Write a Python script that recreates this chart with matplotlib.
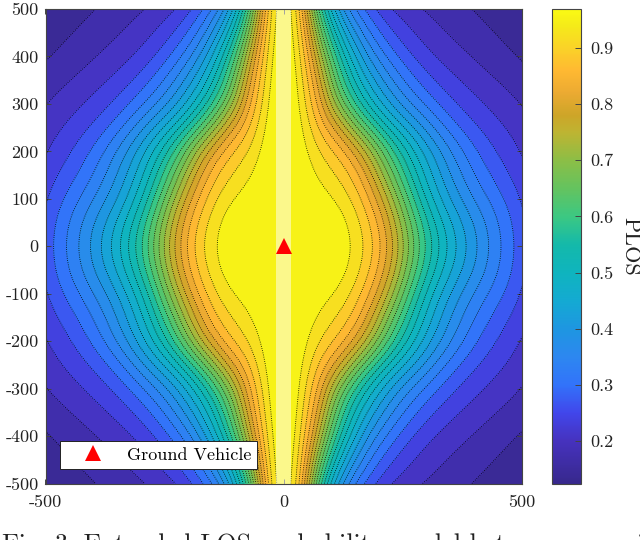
import numpy as np
import matplotlib
matplotlib.use("Agg")
import matplotlib.pyplot as plt
from matplotlib.colors import LinearSegmentedColormap, Normalize
from matplotlib.cm import ScalarMappable

plt.rcParams['font.family'] = ['cmr10', 'DejaVu Serif']
plt.rcParams['axes.unicode_minus'] = False
plt.rcParams['axes.formatter.use_mathtext'] = True

# |x| and |y| positions of the values (field is mirrored)
abs_x = [0, 15, 25, 35, 50, 65, 80, 100, 120, 140, 165, 190, 220, 250, 285, 320, 360, 400, 450, 500]
abs_y = [0, 50, 100, 150, 200, 250, 300, 350, 400, 450, 500]
plos = [
    [.969,.969,.969,.969,.969,.969,.969,.968,.960,.945,.920,.885,.825,.735,.620,.530,.460,.398,.323,.270],
    [.969,.969,.969,.969,.969,.969,.968,.966,.955,.940,.905,.865,.800,.700,.585,.505,.440,.385,.325,.265],
    [.969,.969,.969,.968,.966,.962,.955,.945,.930,.910,.875,.830,.755,.645,.530,.450,.390,.340,.300,.250],
    [.969,.969,.968,.966,.955,.940,.925,.910,.893,.875,.835,.770,.665,.580,.490,.425,.365,.310,.265,.235],
    [.969,.968,.966,.958,.9365,.920,.905,.890,.870,.845,.795,.720,.615,.540,.470,.405,.350,.2865,.245,.2175],
    [.969,.968,.962,.945,.920,.890,.860,.830,.790,.720,.635,.565,.500,.450,.400,.335,.280,.250,.230,.205],
    [.969,.967,.955,.930,.890,.850,.810,.720,.645,.580,.515,.465,.400,.360,.315,.280,.250,.230,.205,.187],
    [.969,.965,.945,.920,.880,.830,.770,.670,.590,.530,.465,.420,.370,.320,.275,.247,.222,.205,.187,.172],
    [.969,.960,.9365,.905,.855,.785,.720,.615,.545,.485,.410,.350,.300,.262,.235,.213,.198,.185,.167,.150],
    [.969,.955,.925,.885,.820,.730,.630,.540,.470,.405,.340,.295,.260,.235,.210,.195,.180,.170,.153,.140],
    [.969,.950,.910,.865,.770,.660,.560,.470,.390,.335,.2865,.254,.220,.205,.190,.178,.167,.155,.140,.126],
]

plos_min, plos_max = 0.124, 0.969
band_count = 26

x_ticks = [-500, 0, 500]
x_tick_labels = ['-500', '0', '500']
y_ticks = [-500, -400, -300, -200, -100, 0, 100, 200, 300, 400, 500]
y_tick_labels = ['-500', '-400', '-300', '-200', '-100', '0', '100', '200', '300', '400', '500']
cbar_ticks = [0.2, 0.3, 0.4, 0.5, 0.6, 0.7, 0.8, 0.9]
cbar_tick_labels = ['0.2', '0.3', '0.4', '0.5', '0.6', '0.7', '0.8', '0.9']

vehicle_x = [0]
vehicle_y = [0]

cmap_values = [.124, .2, .25, .3, .35, .4, .45, .5, .55, .6, .65, .7, .75, .78, .82, .86, .9, .94, .969]
cmap_colors = [(55,40,140), (70,50,190), (65,70,235), (50,115,250), (45,135,240), (30,150,225),
               (20,170,210), (15,180,190), (20,185,170), (60,200,130), (100,195,95), (140,190,70),
               (190,180,50), (205,165,40), (235,170,50), (255,185,50), (250,210,40), (245,235,25), (250,250,20)]

cmap = LinearSegmentedColormap.from_list(
    'plos',
    [((v - plos_min) / (plos_max - plos_min), tuple(c / 255 for c in col))
     for v, col in zip(cmap_values, cmap_colors)], N=512)
norm = Normalize(plos_min, plos_max)

# mirror the quadrant into the full plane
q = np.array(plos)
xs = np.concatenate([-np.array(abs_x[:0:-1]), abs_x]).astype(float)
ys = np.concatenate([-np.array(abs_y[:0:-1]), abs_y]).astype(float)
z = np.hstack([q[:, :0:-1], q])
z = np.vstack([z[:0:-1], z])


def soften(values, sub, sigma):
    """Upsample one axis of a table by sub and round off its kinks (sigma in table cells)."""
    n = values.shape[0]
    fine = np.linspace(0, n - 1, (n - 1) * sub + 1)
    up = np.array([np.interp(fine, np.arange(n), col) for col in values.T]).T
    r = int(4 * sigma * sub)
    k = np.exp(-0.5 * (np.arange(-r, r + 1) / (sigma * sub)) ** 2)
    k /= k.sum()
    pad_lo = 2 * up[:1] - up[r:0:-1]
    pad_hi = 2 * up[-1:] - up[-2:-r - 2:-1]
    full = np.vstack([pad_lo, up, pad_hi])
    return np.array([np.convolve(col, k, mode='valid') for col in full.T]).T


sub = 8
zf = soften(soften(z, sub, 0.75).T, sub, 0.9).T
xf = soften(xs[:, None], sub, 0.9)[:, 0]
yf = soften(ys[:, None], sub, 0.75)[:, 0]
zf = np.clip(zf, plos_min, plos_max)
X, Y = np.meshgrid(xf, yf)
levels = np.linspace(plos_min, plos_max, band_count + 1)

fig = plt.figure(figsize=(6.4, 5.4), dpi=100)
W, H = 640, 540
ax = fig.add_axes([45.5 / W, 1 - 483.5 / H, (522 - 45.5) / W, (483.5 - 9) / H])
ax.contourf(X, Y, zf, levels=levels, cmap=cmap, norm=norm)
ax.contour(X, Y, zf, levels=levels[1:-1], colors='k', linewidths=0.6, linestyles=':')
ax.axvspan(-16, 16, color='white', alpha=0.5, lw=0, zorder=3)
ax.plot(vehicle_x, vehicle_y, '^', color='red', ms=11.5, mew=0, ls='none', zorder=4, label='Ground Vehicle')

ax.set_xlim(-500, 500)
ax.set_ylim(-500, 500)
ax.set_xticks(x_ticks, x_tick_labels)
ax.set_yticks(y_ticks, y_tick_labels)
ax.tick_params(direction='in', top=True, right=True, length=3.5, width=0.7, color='#444444',
               labelsize=13, labelcolor='#222222', pad=5)
ax.tick_params(axis='x', pad=8)
for s in ax.spines.values():
    s.set_linewidth(0.8)
    s.set_color('#444444')
    s.set_zorder(6)

leg = ax.legend(loc='lower left', bbox_to_anchor=((60 - 45.5) / 476.5, (483.5 - 469) / 474.5),
                borderaxespad=0, frameon=True, fancybox=False, framealpha=1, edgecolor='#222222',
                fontsize=13, handletextpad=0.34, borderpad=0.35, handlelength=3.0)
leg.get_frame().set_linewidth(0.7)

cax = fig.add_axes([552 / W, 1 - 484 / H, 29 / W, 475 / H])
cb = fig.colorbar(ScalarMappable(norm=norm, cmap=cmap), cax=cax)
cb.set_ticks(cbar_ticks, labels=cbar_tick_labels)
cax.tick_params(direction='in', length=4.5, width=0.7, color='#444444', labelsize=13,
                labelcolor='#222222', pad=7)
cb.outline.set_linewidth(0.8)
cb.outline.set_edgecolor('#444444')
fig.text(630 / W, 1 - 246 / H, 'PLOS', rotation=270, ha='center', va='center', fontsize=16, color='#222222')

fig.text(2 / W, 1 - 552 / H, 'Fig. 3: Extended LOS probability model between a receiver in',
         fontsize=18.7, ha='left', va='baseline', color='#222222')

fig.savefig('out.png', dpi=100)
